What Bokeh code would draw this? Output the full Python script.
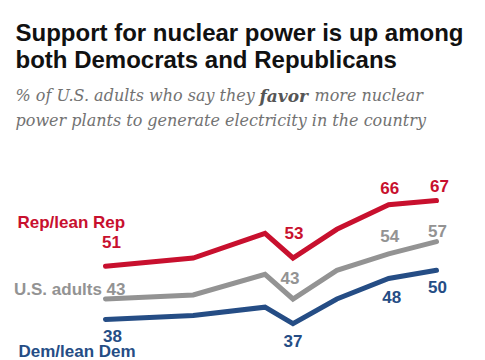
import pandas as pd
from bokeh.plotting import figure
from bokeh.models import Range1d, Label
from bokeh.embed import file_html
from bokeh.resources import INLINE

# ---- data ----
dates = ["2016-06-01", "2018-04-01", "2019-10-01", "2020-05-01",
         "2021-04-01", "2022-05-01", "2023-05-01"]
rep = [51, 53, 59, 53, 60, 66, 67]
total = [43, 44, 49, 43, 50, 54, 57]
dem = [38, 39, 41, 37, 43, 48, 50]
labeled_idx = [0, 3, 5, 6]

title_lines = ["Support for nuclear power is up among",
               "both Democrats and Republicans"]
sub_a = "% of U.S. adults who say they"
sub_b = "favor"
sub_c = "more nuclear"
sub_line2 = "power plants to generate electricity in the country"

REP_C = "#c8102e"
TOT_C = "#939393"
DEM_C = "#254d85"

W, H = 485, 360

ms = list((pd.to_datetime(dates) - pd.Timestamp("1970-01-01")) // pd.Timedelta(milliseconds=1))
ms = [float(m) for m in ms]

# layout mapping (figure pixels)
kx = (436 - 105) / (ms[-1] - ms[0])
x_start = ms[0] - 105 / kx
x_end = x_start + W / kx
ky = 4.1
y_end = 51 + 265.7 / ky
y_start = y_end - H / ky


def to_data(fx, fy):
    return x_start + fx / kx, y_end - fy / ky


def off(xv, yv, dx, dy):
    return xv + dx / kx, yv - dy / ky


p = figure(width=W, height=H, output_backend="svg", toolbar_location=None,
           x_axis_type="datetime", x_axis_location=None, y_axis_location=None,
           x_range=Range1d(x_start, x_end), y_range=Range1d(y_start, y_end),
           min_border=0, outline_line_color=None)
p.grid.visible = False
p.background_fill_color = "white"
p.border_fill_color = "white"

for vals, col in [(rep, REP_C), (total, TOT_C), (dem, DEM_C)]:
    p.line(ms, vals, line_color=col, line_width=5, line_cap="round", line_join="miter")

FONT = "Liberation Sans"


def add_text(x, y, text, color, size, align="center", baseline="middle",
             font=FONT, style="bold"):
    p.add_layout(Label(x=x, y=y, text=text, text_color=color,
                       text_font=font, text_font_size=f"{size}px",
                       text_font_style=style, text_align=align,
                       text_baseline=baseline))


# value labels
rep_off = {0: (6, -24), 3: (1, -25), 5: (1, -17), 6: (3, -15)}
tot_off = {3: (-3, -21), 5: (1, -18), 6: (1, -11)}
dem_off = {0: (7, 16), 3: (0, 17), 5: (3, 18), 6: (1, 17)}
for i in labeled_idx:
    if i in rep_off:
        x, y = off(ms[i], rep[i], *rep_off[i])
        add_text(x, y, str(rep[i]), REP_C, 17)
    if i in tot_off:
        x, y = off(ms[i], total[i], *tot_off[i])
        add_text(x, y, str(total[i]), TOT_C, 17)
    if i in dem_off:
        x, y = off(ms[i], dem[i], *dem_off[i])
        add_text(x, y, str(dem[i]), DEM_C, 17)

# series names
x, y = off(ms[0], total[0], 20, -10)
add_text(x, y, "U.S. adults " + str(total[0]), TOT_C, 17, align="right")
x, y = to_data(17, 222)
add_text(x, y, "Rep/lean Rep", REP_C, 17, align="left")
x, y = to_data(18, 351)
add_text(x, y, "Dem/lean Dem", DEM_C, 17, align="left")

# title
for k, line in enumerate(title_lines):
    x, y = to_data(15, 32 + 27 * k)
    add_text(x, y, line, "#111111", 24, align="left", baseline="alphabetic")

SERIF = "DejaVu Serif"
SUB_C = "#727272"
x, y = to_data(15, 95)
add_text(x, y, sub_a, SUB_C, 16, align="left", baseline="alphabetic", font=SERIF, style="italic")
x, y = to_data(259, 95)
add_text(x, y, sub_b, "#555555", 17, align="left", baseline="alphabetic", font=SERIF, style="bold italic")
x, y = to_data(314, 95)
add_text(x, y, sub_c, SUB_C, 16, align="left", baseline="alphabetic", font=SERIF, style="italic")
x, y = to_data(15, 120)
add_text(x, y, sub_line2, SUB_C, 16, align="left", baseline="alphabetic", font=SERIF, style="italic")

open("out.html", "w").write(file_html(p, INLINE))
